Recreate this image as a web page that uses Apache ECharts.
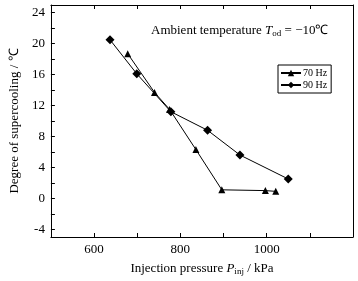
<!DOCTYPE html>
<html>
<head>
<meta charset="utf-8">
<script src="https://cdn.jsdelivr.net/npm/echarts@6/dist/echarts.min.js"></script>
<style>
  html, body { margin: 0; padding: 0; background: #fff; }
  #chart { width: 358px; height: 281px; }
</style>
</head>
<body>
<div id="chart"></div>
<script>
// 数据
var hz70 = [[678, 18.7], [740, 13.7], [775, 11.5], [836, 6.3], [896, 1.1], [997, 1.0], [1021, 0.9]];
var hz90 = [[637, 20.5], [699, 16.1], [778, 11.2], [863, 8.8], [938, 5.6], [1050, 2.5]];
var xLabels = [600, 800, 1000];
var xTicks = [600, 700, 800, 900, 1000, 1100];
var yLabels = [-4, 0, 4, 8, 12, 16, 20, 24];
var yTicks = [-4, -2, 0, 2, 4, 6, 8, 10, 12, 14, 16, 18, 20, 22, 24];

var font = 'Liberation Serif';
var myChart = echarts.init(document.getElementById('chart'));

var axisLine = { show: true, onZero: false, lineStyle: { color: '#000', width: 1 } };
var plain = function (v) { return String(v); };

myChart.setOption({
    animation: false,
    textStyle: { fontFamily: font, color: '#000' },
    grid: { left: 44, top: 5, width: 309, height: 238 },
    legend: {
        orient: 'vertical',
        left: 278,
        top: 65,
        padding: [3, 4, 3, 2],
        itemGap: 2,
        itemWidth: 20,
        itemHeight: 8,
        borderColor: '#000',
        borderWidth: 1,
        textStyle: { fontFamily: font, fontSize: 10, color: '#000', padding: [0, 0, 0, -3] },
        data: ['70 Hz', '90 Hz']
    },
    xAxis: [{
        type: 'value',
        min: 500,
        max: 1200,
        interval: 100,
        name: 'Injection pressure {i|P}{sub|inj} / kPa',
        nameLocation: 'middle',
        nameGap: 24,
        nameTextStyle: {
            fontFamily: font, fontSize: 13, color: '#000',
            rich: {
                i: { fontFamily: font, fontSize: 13, fontStyle: 'italic', color: '#000' },
                sub: { fontFamily: font, fontSize: 9, color: '#000', padding: [6, 0, 0, 0] }
            }
        },
        axisLine: axisLine,
        axisTick: { show: true, inside: true, length: 4, customValues: xTicks, lineStyle: { color: '#000' } },
        axisLabel: { customValues: xLabels, formatter: plain, fontSize: 13, color: '#000', fontFamily: font, margin: 6 },
        splitLine: { show: false }
    }, {
        type: 'value',
        position: 'top',
        min: 500,
        max: 1200,
        interval: 100,
        axisLine: axisLine,
        axisTick: { show: true, inside: true, length: 4, customValues: xTicks, lineStyle: { color: '#000' } },
        axisLabel: { show: false },
        splitLine: { show: false }
    }],
    yAxis: [{
        type: 'value',
        min: -5,
        max: 25,
        interval: 1,
        name: 'Degree of supercooling / ℃',
        nameLocation: 'middle',
        nameGap: 29,
        nameTextStyle: { fontFamily: font, fontSize: 13, color: '#000' },
        axisLine: axisLine,
        axisTick: { show: true, inside: true, length: 4, customValues: yTicks, lineStyle: { color: '#000' } },
        axisLabel: { customValues: yLabels, formatter: plain, fontSize: 13, color: '#000', fontFamily: font, margin: 6 },
        splitLine: { show: false }
    }, {
        type: 'value',
        position: 'right',
        min: -5,
        max: 25,
        interval: 1,
        axisLine: axisLine,
        axisTick: { show: false },
        axisLabel: { show: false },
        splitLine: { show: false }
    }],
    graphic: [{
        type: 'text',
        left: 151,
        top: 24,
        style: {
            text: 'Ambient temperature {i|T}{sub|od} = \u221210\u2103',
            fontFamily: font,
            fontSize: 13,
            fill: '#000',
            rich: {
                i: { fontFamily: font, fontSize: 13, fontStyle: 'italic', fill: '#000' },
                sub: { fontFamily: font, fontSize: 9, fill: '#000', padding: [6, 0, 0, 0] }
            }
        }
    }],
    series: [{
        name: '70 Hz',
        type: 'line',
        data: hz70,
        symbol: 'triangle',
        symbolSize: 7,
        lineStyle: { color: '#000', width: 1 },
        itemStyle: { color: '#000' }
    }, {
        name: '90 Hz',
        type: 'line',
        data: hz90,
        symbol: 'diamond',
        symbolSize: 9,
        lineStyle: { color: '#000', width: 1 },
        itemStyle: { color: '#000' }
    }]
});
</script>
</body>
</html>
